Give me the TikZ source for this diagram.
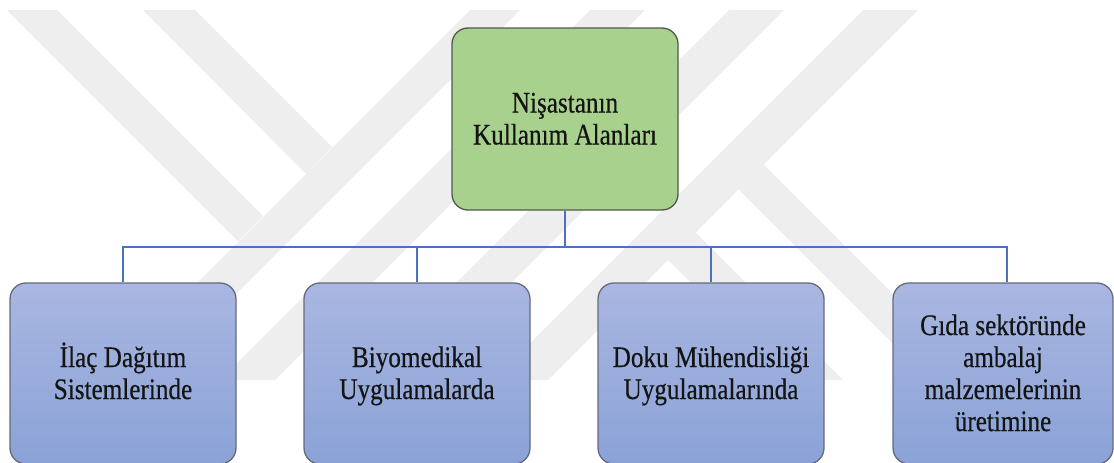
\documentclass[tikz,border=0pt]{standalone}
\usepackage{fontspec}
\usepackage{graphicx}
\newfontfamily\tnr{Liberation Serif}[BoldFont={Liberation Serif},BoldFeatures={FakeBold=0.5}]
\definecolor{wmgray}{HTML}{EEEEEE}
\definecolor{topgreen}{HTML}{A9D18E}
\definecolor{topborder}{HTML}{505A4A}
\definecolor{leaftop}{HTML}{A9B7E1}
\definecolor{leafbot}{HTML}{8BA2D7}
\definecolor{leafborder}{HTML}{666A7A}
\definecolor{connblue}{HTML}{4A72C4}
\newcommand\lnstrut{\rule[-6.5pt]{0pt}{32pt}}
\newcommand\sqz[1]{\lnstrut\scalebox{0.845}[1]{#1}}
\begin{document}
\begin{tikzpicture}[x=1pt,y=-1pt,
  wm/.style={fill=wmgray,draw=none},
  boxtext/.style={inner sep=0pt,align=center,font=\tnr\bfseries\fontsize{29.8}{32}\selectfont,text=black!92},
  topbox/.style={boxtext,draw=topborder,line width=1.3pt,fill=topgreen,rounded corners=16pt,minimum width=226pt,minimum height=182pt},
  leafbox/.style={boxtext,draw=leafborder,line width=1.3pt,top color=leaftop,bottom color=leafbot,rounded corners=16pt,minimum width=226pt,minimum height=181pt},
  conn/.style={draw=connblue,line width=2pt}]
\useasboundingbox (0,0) rectangle (1114,463);
% watermark
\fill[wm] (7,10) -- (57,10) -- (263,216) -- (238,241) -- cycle;
\fill[wm] (143,10) -- (195,10) -- (332,147) -- (306,174) -- cycle;
\fill[wm] (470,10) -- (520,10) -- (150,380) -- (100,380) -- cycle;
\fill[wm] (590,10) -- (645,10) -- (275,380) -- (220,380) -- cycle;
\fill[wm] (729,10) -- (784,10) -- (414,380) -- (359,380) -- cycle;
\fill[wm] (863,10) -- (918,10) -- (548,380) -- (493,380) -- cycle;
\fill[wm] (763,164) -- (738,189) -- (929,380) -- (979,380) -- cycle;
\fill[wm] (695,232) -- (668,260) -- (788,380) -- (843,380) -- cycle;
% boxes
\node[topbox] (top) at (565,119) {\sqz{Nişastanın}\\\sqz{Kullanım Alanları}};
\node[leafbox] (b1) at (123,373.5) {\sqz{İlaç Dağıtım}\\\sqz{Sistemlerinde}};
\node[leafbox] (b2) at (417,373.5) {\sqz{Biyomedikal}\\\sqz{Uygulamalarda}};
\node[leafbox] (b3) at (711,373.5) {\sqz{Doku Mühendisliği}\\\sqz{Uygulamalarında}};
\node[leafbox,minimum width=220pt] (b4) at (1003,373.5) {\sqz{Gıda sektöründe}\\\sqz{ambalaj}\\\sqz{malzemelerinin}\\\sqz{üretimine}};
% connectors
\coordinate (bus) at (565,247);
\draw[conn] (top.south) -- (top.south |- bus);
\draw[conn] (b1.north) -- (b1.north |- bus) -- ([xshift=4pt]b4.north |- bus) -- ([xshift=4pt]b4.north);
\draw[conn] (b2.north) -- (b2.north |- bus);
\draw[conn] (b3.north) -- (b3.north |- bus);
\end{tikzpicture}
\end{document}
